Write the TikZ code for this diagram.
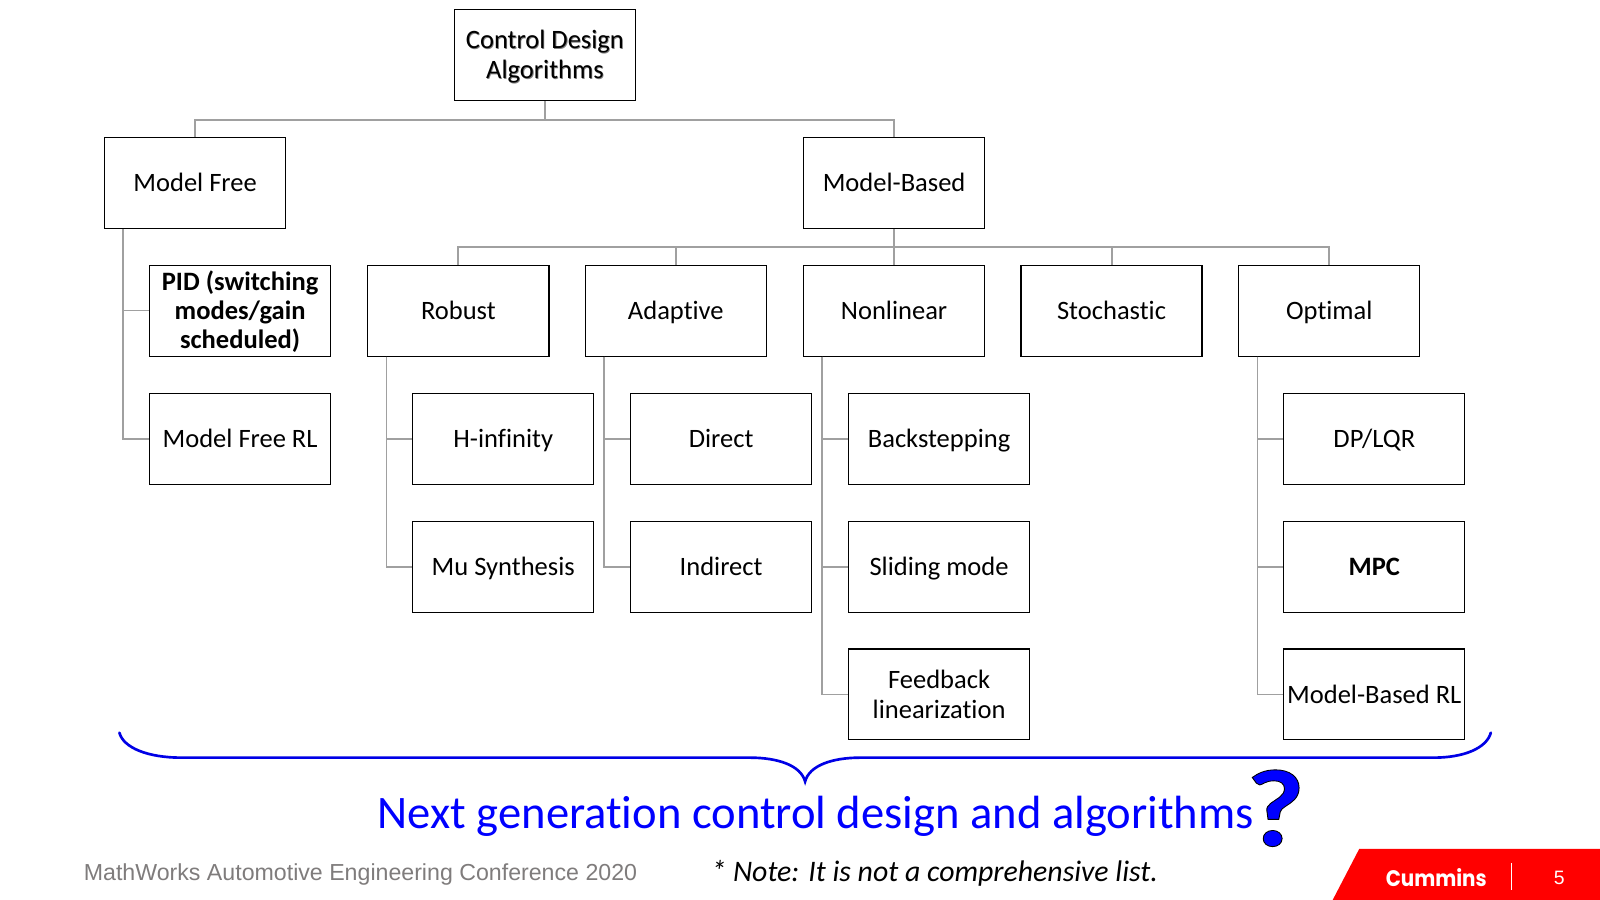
\documentclass[tikz,border=0pt]{standalone}
\usepackage{fontspec}
\setmainfont[Ligatures=NoCommon]{Carlito}
\newfontfamily\arialf{Liberation Sans}
\newfontfamily\logof{Poppins}
\usetikzlibrary{calc}
\definecolor{conn}{HTML}{A0A0A0}
\definecolor{brace}{HTML}{0000E6}
\definecolor{pure}{HTML}{0000FF}
\definecolor{foot}{HTML}{7F7C7C}
\definecolor{cred}{HTML}{FF0000}
\newcommand{\shadowed}[1]{\rlap{\raisebox{-1pt}{\hspace{0.8pt}\textcolor{gray}{#1}}}#1}
\tikzset{
  box/.style={draw=black,line width=1.2pt,minimum width=177.5pt,minimum height=89pt,inner sep=0pt,align=center,font=\fontsize{26}{28.7}\selectfont,fill=white},
  one/.style={box,text height=20pt,text depth=3pt},
  boldbox/.style={font=\fontsize{26}{28.7}\selectfont\bfseries},
  link/.style={draw=conn,line width=1.9pt},
  sublink/.style={draw=conn,line width=1.5pt},
}
\begin{document}
\begin{tikzpicture}[x=1pt,y=-1pt]
\useasboundingbox (0,0) rectangle (1568,882);
\fill[white] (0,0) rectangle (1568,882);
% boxes
\node[box] (root) at (534,54) {\rule{0pt}{22pt}\shadowed{Control Design}\\\shadowed{Algorithms}};
\node[one] (mf) at (191.2,179.5) {Model Free};
\node[one] (mb) at (876.2,179.5) {Model-Based};
\node[box,boldbox] (pid) at (235.3,304.5) {\rule{0pt}{21pt}PID (switching\\modes/gain\\scheduled)};
\node[one] (robust) at (449.2,304.5) {Robust};
\node[one] (adaptive) at (662.3,304.5) {Adaptive};
\node[one] (nonlinear) at (876.2,304.5) {Nonlinear};
\node[one] (stochastic) at (1089.3,304.5) {Stochastic};
\node[one] (optimal) at (1302.7,304.5) {Optimal};
\node[one] (mfrl) at (235.3,430) {Model Free RL};
\node[one] (hinf) at (493.2,430) {H-infinity};
\node[one] (direct) at (706.7,430) {Direct};
\node[one] (back) at (920.3,430) {Backstepping};
\node[one] (dplqr) at (1346.8,430) {DP/LQR};
\node[one] (mu) at (493.2,555.5) {Mu Synthesis};
\node[one] (indirect) at (706.7,555.5) {Indirect};
\node[one] (sliding) at (920.3,555.5) {Sliding mode};
\node[one,boldbox] (mpc) at (1346.8,555.5) {MPC};
\node[box] (feedback) at (920.3,680.5) {Feedback\\linearization};
\node[one] (mbrl) at (1346.8,680.5) {Model-Based RL};
% connectors
\draw[link] (root.south) -- ++(0,18.5) -| (mf.north);
\draw[link] (root.south) -- ++(0,18.5) -| (mb.north);
\foreach \c in {robust,adaptive,nonlinear,stochastic,optimal}
  \draw[link] (mb.south) -- ++(0,17.5) -| (\c.north);
\foreach \p/\c in {mf/pid,mf/mfrl,robust/hinf,robust/mu,adaptive/direct,adaptive/indirect,nonlinear/back,nonlinear/sliding,nonlinear/feedback,optimal/dplqr,optimal/mpc,optimal/mbrl}
  \draw[sublink] (\p.south west) ++(18.8,0) |- (\c.west);
% brace
\coordinate (bl) at (117,718);
\coordinate (br) at (1461,718);
\coordinate (bt) at (789,766);
\draw[brace,line width=2.6pt,line cap=round] (bl) .. controls (121,733) and (145,742.5) .. (178,742.5)
  -- (735,742.5) .. controls (762,742.5) and (785,750) .. (bt)
  .. controls (793,750) and (816,742.5) .. (843,742.5)
  -- (1405,742.5) .. controls (1435,742.5) and (1457,733) .. (br);
% captions
\node[text=pure,font=\fontsize{45.65}{48}\selectfont,inner sep=0pt,anchor=base west] (next) at (370,812) {Next generation control design and algorithms};
\node[text=pure,font=\fontsize{108}{108}\bfseries\selectfont,inner sep=0pt,anchor=base] (qm) at (1250,829) {\scalebox{1.15}[1]{\special{pdf:literal direct 0 0 0 RG 2 Tr 0.8 w}?\special{pdf:literal direct 0 Tr}}};
\node[text=foot,font=\fontsize{22.7}{26}\selectfont\arialf,inner sep=0pt,anchor=base west] (conf) at (82,863) {MathWorks Automotive Engineering Conference 2020};
\node[text=black,font=\fontsize{29.2}{32}\itshape\selectfont,inner sep=0pt,anchor=base west] (note) at (697,864) {* Note: It is not a comprehensive list.};
% logo strip
\fill[cred] (1332,832) -- (1568,832) -- (1568,882) -- (1306,882) -- cycle;
\node[text=white,font=\fontsize{22}{24}\bfseries\selectfont\logof,inner sep=0pt] (logo) at (1407.5,860) {\scalebox{0.885}[1]{Cummins}};
\draw[white,line width=1pt] (1481,846) -- (1481,872);
\node[text=white,font=\fontsize{19}{22}\selectfont\arialf,inner sep=0pt] (page) at (1528,860) {5};
\end{tikzpicture}
\end{document}
